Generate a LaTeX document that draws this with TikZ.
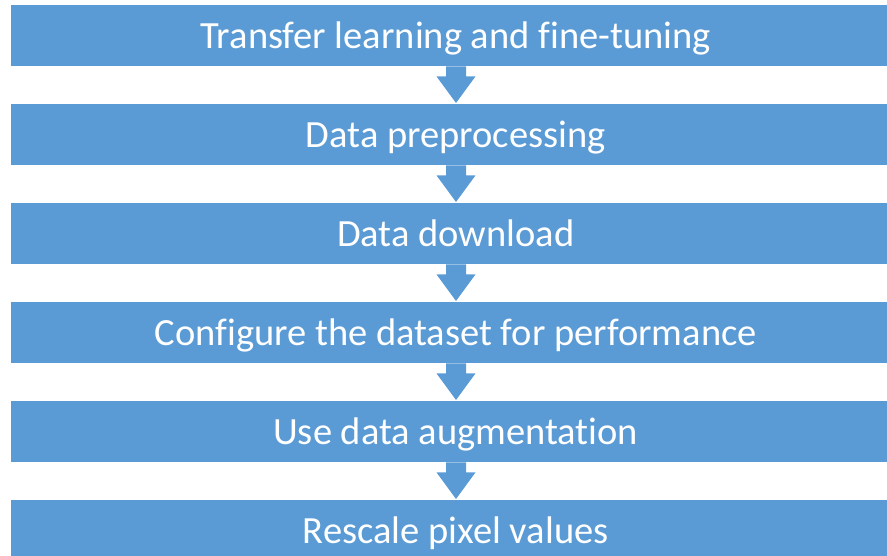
\documentclass[tikz,border=0pt]{standalone}
\usepackage{fontspec}
\setmainfont[Ligatures=NoCommon]{Carlito}
\usetikzlibrary{calc}
\definecolor{stepblue}{HTML}{5B9BD5}
\begin{document}
\begin{tikzpicture}[x=1pt,y=-1pt,
  stepbox/.style={fill=stepblue,draw=none,minimum width=889pt,minimum height=61pt,
    inner sep=0pt,text height=24.8pt,text depth=0pt,anchor=north west,text=white,
    font=\fontsize{38.5}{42}\selectfont},
  flowarrow/.style={fill=stepblue,draw=none}]
\useasboundingbox (0,0) rectangle (887,556);
\begin{scope}
\clip (0,0) rectangle (887,556);
\foreach \i/\txt in {1/Transfer learning and fine-tuning,
                     2/Data preprocessing,
                     3/Data download,
                     4/Configure the dataset for performance,
                     5/Use data augmentation,
                     6/Rescale pixel values}{
  \node[stepbox] (b\i) at (11,{5+99*(\i-1)}) {\txt};
}
% block arrows between consecutive steps
\foreach \i [evaluate=\i as \j using int(\i+1)] in {1,...,5}{
  \coordinate (top\i) at (456,0 |- b\i.south);
  \coordinate (tip\i) at (456,0 |- b\j.north);
  \fill[flowarrow] ($(top\i)+(-10,0)$) -- ($(top\i)+(-10,10)$) -- ($(top\i)+(-19.5,10)$)
     -- ($(tip\i)+(0,-1)$) -- ($(top\i)+(19.5,10)$) -- ($(top\i)+(10,10)$)
     -- ($(top\i)+(10,0)$) -- cycle;
}
\end{scope}
\end{tikzpicture}
\end{document}
